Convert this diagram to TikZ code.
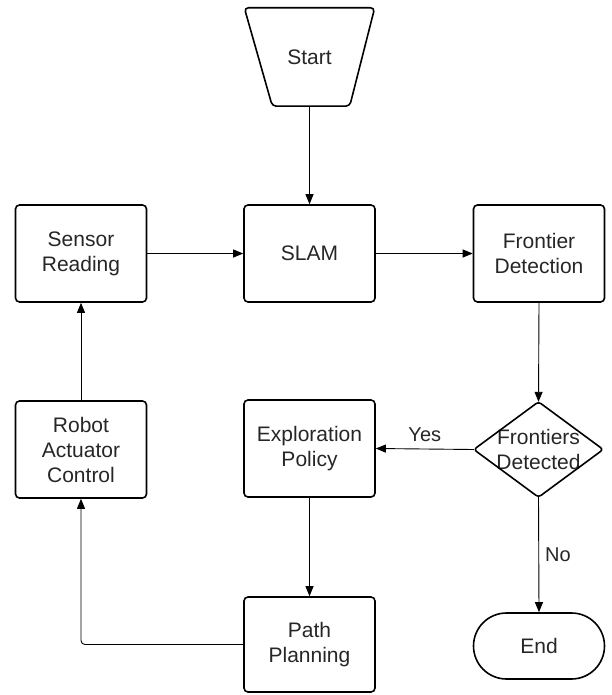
\documentclass[tikz,border=0pt]{standalone}
\usepackage{fontspec}
\setmainfont{Liberation Sans}
\usetikzlibrary{arrows.meta,calc}
\begin{document}
\begin{tikzpicture}[x=1pt,y=-1pt,
  txt/.style={align=center, inner sep=0pt, font=\fontsize{21}{25}\selectfont, text=black!85},
  box/.style={txt, draw, line width=1.6pt, rounded corners=4pt, minimum width=131pt, minimum height=97pt},
  plain/.style={txt, draw=none},
  outl/.style={line width=1.6pt, rounded corners=4pt, line join=round},
  conn/.style={line width=0.9pt, -{Triangle[length=10pt,width=8pt]}},
  lbl/.style={font=\fontsize{20}{24}\selectfont, text=black!85, inner sep=0pt}]
\useasboundingbox (0,0) rectangle (612,695);
% nodes
\node[plain, minimum width=130pt, minimum height=98pt] (start) at (309.5,57) {Start};
\draw[outl] (start.north west) -- (start.north east)
  -- ($(start.south east)+(-25,0)$) -- ($(start.south west)+(28,0)$) -- cycle;
\node[box] (slam) at (309.5,253.5) {SLAM};
\node[box] (sensor) at (81,253.5) {Sensor\\Reading};
\node[box] (front) at (539,253.5) {Frontier\\Detection};
\node[box] (expl) at (309.5,448.5) {Exploration\\Policy};
\node[box] (robot) at (81,449.5) {Robot\\Actuator\\Control};
\node[box, minimum height=95pt] (path) at (309.5,644.5) {Path\\Planning};
\node[plain, minimum width=129pt, minimum height=95pt] (dec) at (538.5,449.5) {Frontiers\\Detected};
\draw[outl, rounded corners=3pt] (dec.north) -- (dec.east) -- (dec.south) -- (dec.west) -- cycle;
\node[box, rounded corners=33pt, minimum height=66pt] (end) at (539,646) {End};
% connectors
\draw[conn] (start.south) -- (slam.north);
\draw[conn] (sensor.east) -- (slam.west);
\draw[conn] (slam.east) -- (front.west);
\draw[conn] (front.south) -- (dec.north);
\draw[conn] (dec.west) -- node[lbl, above=7pt] (yes) {Yes} (expl.east);
\draw[conn] (dec.south) -- node[lbl, right=6pt, pos=0.5] (no) {No} (end.north);
\draw[conn] (expl.south) -- (path.north);
\draw[conn, rounded corners=4pt] (path.west) -| (robot.south);
\draw[conn] (robot.north) -- (sensor.south);
\end{tikzpicture}
\end{document}
